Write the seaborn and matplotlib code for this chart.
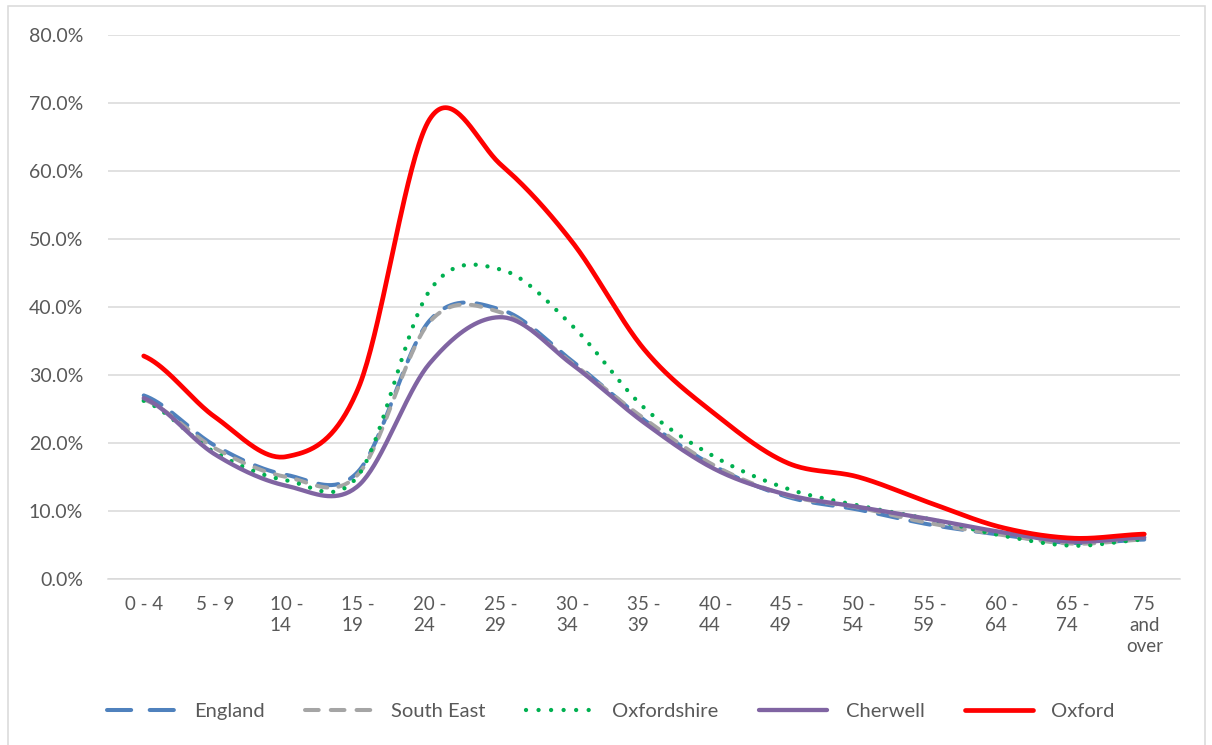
import numpy as np
import pandas as pd
import matplotlib
matplotlib.use("Agg")
import matplotlib.pyplot as plt
from matplotlib.lines import Line2D
from matplotlib.patches import Rectangle
from matplotlib.ticker import FuncFormatter
import seaborn as sns

# ---------------- data ----------------
age_groups = ["0 - 4", "5 - 9", "10 -\n14", "15 -\n19", "20 -\n24", "25 -\n29",
              "30 -\n34", "35 -\n39", "40 -\n44", "45 -\n49", "50 -\n54",
              "55 -\n59", "60 -\n64", "65 -\n74", "75\nand\nover"]
england = [27.0, 19.6, 15.3, 15.8, 38.0, 39.6, 32.0, 23.4, 16.5, 12.1, 10.2, 8.0, 6.5, 5.3, 5.8]
south_east = [26.4, 19.2, 15.0, 15.4, 37.8, 39.2, 31.7, 23.6, 16.6, 12.3, 10.5, 8.2, 6.5, 5.2, 5.8]
oxfordshire = [26.2, 18.6, 14.5, 15.2, 42.4, 45.5, 37.2, 25.2, 17.9, 13.3, 10.8, 8.8, 6.4, 4.9, 5.8]
cherwell = [26.6, 18.3, 13.7, 13.7, 31.7, 38.5, 31.5, 23.0, 16.1, 12.4, 10.6, 8.8, 6.9, 5.5, 6.1]
oxford = [32.8, 23.8, 18.0, 28.0, 67.6, 60.9, 49.5, 33.8, 24.2, 17.1, 15.0, 11.2, 7.6, 6.0, 6.6]
series_names = ["England", "South East", "Oxfordshire", "Cherwell", "Oxford"]
y_ticks = [0, 10, 20, 30, 40, 50, 60, 70, 80]

# ---------------- style ----------------
sns.set_theme(style="white")
plt.rcParams["font.family"] = ["Lato", "DejaVu Sans"]
TXT = "#595959"
GRID = "#D9D9D9"

styles = {
    "England": dict(color="#4F81BD", lw=2.9, dashes=(5.0, 3.2), leg_dashes=(6.0, 4.6), cap="round"),
    "South East": dict(color="#A5A5A5", lw=2.9, dashes=(2.6, 2.8), leg_dashes=(3.4, 3.0), cap="round"),
    "Oxfordshire": dict(color="#00B050", lw=3.1, dashes=(0.01, 2.75), leg_dashes=(0.01, 2.9), cap="round"),
    "Cherwell": dict(color="#8064A2", lw=3.1, dashes=None, leg_dashes=None, cap="round"),
    "Oxford": dict(color="#FF0000", lw=3.4, dashes=None, leg_dashes=None, cap="round"),
}


def smooth_curve(vals, n=40):
    """Catmull-Rom style smoothing (like Excel 'smoothed line') for drawing."""
    v = np.asarray(vals, dtype=float)
    k = len(v)
    xs, ys = [], []
    t = np.linspace(0, 1, n, endpoint=False)
    for i in range(k - 1):
        p_prev = v[i - 1] if i > 0 else v[i]
        p_next = v[i + 2] if i + 2 < k else v[i + 1]
        m0 = (v[i + 1] - p_prev) / 2.0
        m1 = (p_next - v[i]) / 2.0
        h00 = 2 * t**3 - 3 * t**2 + 1
        h10 = t**3 - 2 * t**2 + t
        h01 = -2 * t**3 + 3 * t**2
        h11 = t**3 - t**2
        ys.append(h00 * v[i] + h10 * m0 + h01 * v[i + 1] + h11 * m1)
        xs.append(i + t)
    xs.append(np.array([k - 1.0]))
    ys.append(np.array([v[-1]]))
    return np.concatenate(xs), np.concatenate(ys)


fig = plt.figure(figsize=(12.12, 7.45), dpi=100)
ax = fig.add_axes([108 / 1212, 1 - 579 / 745, (1180 - 108) / 1212, (579 - 35) / 745])

data = dict(zip(series_names, [england, south_east, oxfordshire, cherwell, oxford]))
for name in series_names:
    sx, sy = smooth_curve(data[name])
    df = pd.DataFrame({"x": sx, "y": sy / 100.0})
    st = styles[name]
    sns.lineplot(data=df, x="x", y="y", ax=ax, color=st["color"], lw=st["lw"],
                 sort=False, estimator=None)
    line = ax.lines[-1]
    if st["dashes"] is not None:
        line.set_dashes(st["dashes"])
    line.set_dash_capstyle(st["cap"])
    line.set_solid_capstyle("round")

ax.set_xlim(-0.5, len(age_groups) - 0.5)
ax.set_ylim(0, 0.8)
ax.set_yticks([v / 100 for v in y_ticks])
ax.yaxis.set_major_formatter(FuncFormatter(lambda v, p: f"{v * 100:.1f}%"))
ax.set_xticks(range(len(age_groups)))
ax.set_xticklabels(age_groups)
for i, lab in enumerate(ax.get_xticklabels()):
    lab.set_multialignment("center" if i == len(age_groups) - 1 else "left")
    lab.set_linespacing(1.3)
ax.set_xlabel("")
ax.set_ylabel("")
ax.grid(axis="y", color=GRID, lw=1.1)
ax.set_axisbelow(True)
for s in ["top", "right", "left"]:
    ax.spines[s].set_visible(False)
ax.spines["bottom"].set_color(GRID)
ax.spines["bottom"].set_linewidth(1.1)
ax.tick_params(axis="both", length=0, colors=TXT, labelsize=13.5)
ax.tick_params(axis="y", labelsize=14, pad=18)
ax.tick_params(axis="x", pad=12)

# legend
handles = []
for name in series_names:
    st = styles[name]
    h = Line2D([], [], color=st["color"], lw=st["lw"], dash_capstyle=st["cap"],
               solid_capstyle="round")
    if st["leg_dashes"] is not None:
        h.set_dashes(st["leg_dashes"])
    handles.append(h)
leg = fig.legend(handles, series_names, loc="center", ncol=5,
                 bbox_to_anchor=(0.504, 1 - 711 / 745), frameon=False,
                 handlelength=3.4, columnspacing=2.0, handletextpad=0.9,
                 fontsize=14.5)
for t in leg.get_texts():
    t.set_color(TXT)

# chart border
fig.patches.append(Rectangle((8 / 1212, -0.02), (1205 - 8) / 1212, 1.02 - 6 / 745,
                             transform=fig.transFigure, fill=False,
                             edgecolor=GRID, lw=1.1))

fig.savefig("out.png", dpi=100)
